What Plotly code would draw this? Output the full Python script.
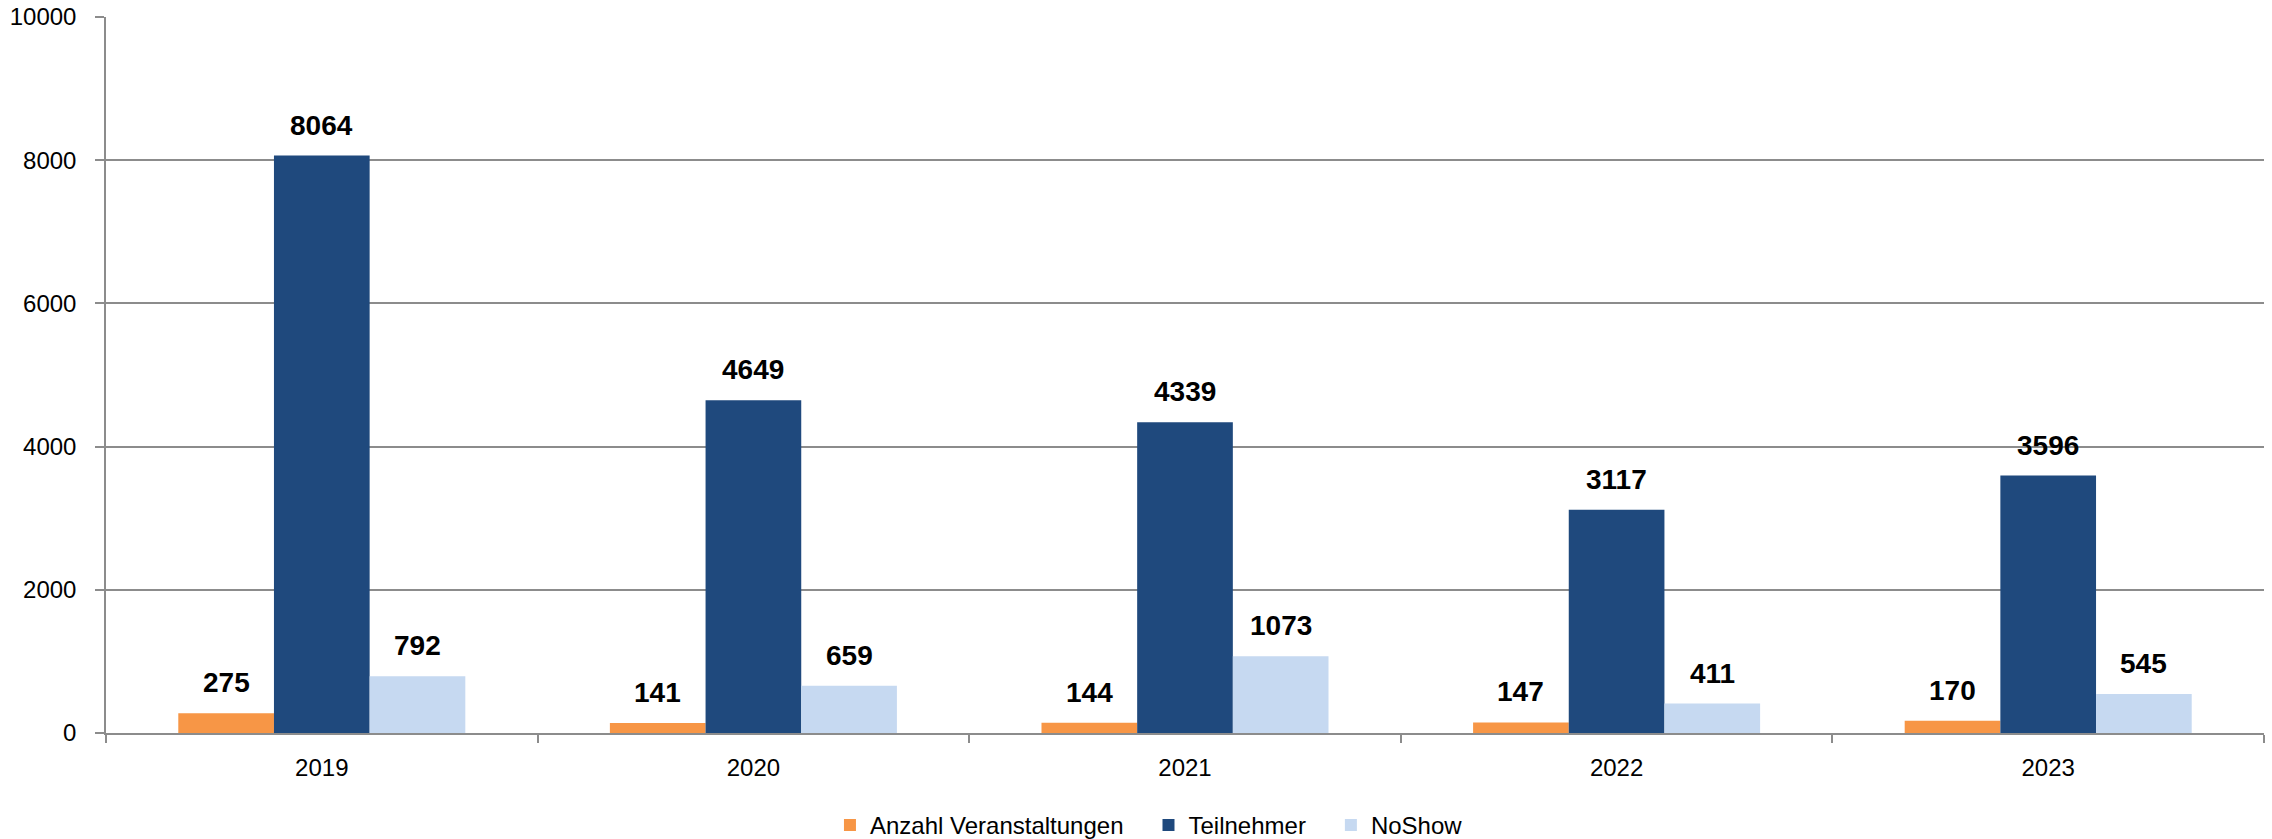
import plotly.graph_objects as go

years = ["2019", "2020", "2021", "2022", "2023"]
veranstaltungen = [275, 141, 144, 147, 170]
teilnehmer = [8064, 4649, 4339, 3117, 3596]
noshow = [792, 659, 1073, 411, 545]

series_names = ["Anzahl Veranstaltungen", "Teilnehmer", "NoShow"]
series_values = [veranstaltungen, teilnehmer, noshow]
series_colors = ["#F79646", "#1F497D", "#C6D9F1"]

FONT = "Liberation Sans, Arial, sans-serif"
GRID = "#8C8C8C"
PAD = "\u00a0" * 3  # spacing between legend entries

fig = go.Figure()
for k, (name, vals, col) in enumerate(zip(series_names, series_values, series_colors)):
    fig.add_trace(go.Bar(
        x=years, y=vals,
        name=name + (PAD if k < len(series_names) - 1 else ""),
        marker=dict(color=col, line=dict(width=0)),
    ))

# data labels above bars (x given as category index on the category axis)
bar_px = 2158 / 5 * 0.665 / 3
for i, vals in enumerate(series_values):
    for j, v in enumerate(vals):
        fig.add_annotation(
            x=j, y=v, xref="x", yref="y",
            text=f"<b>{v}</b>", showarrow=False,
            xanchor="center", yanchor="bottom",
            xshift=(i - 1) * bar_px, yshift=13,
            font=dict(family=FONT, size=28, color="#000000"),
        )

fig.update_layout(
    width=2272, height=839,
    barmode="group", bargap=0.335, bargroupgap=0,
    plot_bgcolor="white", paper_bgcolor="white",
    margin=dict(l=106, r=8, t=17, b=106, autoexpand=False),
    font=dict(family=FONT, size=24, color="#000000"),
    showlegend=True,
    legend=dict(
        orientation="h", x=0.4833, xanchor="center", y=-0.129, yanchor="middle",
        font=dict(family=FONT, size=24, color="#000000"),
        itemwidth=30, tracegroupgap=0,
    ),
)

fig.update_yaxes(
    range=[0, 10000], tickvals=[0, 2000, 4000, 6000, 8000, 10000],
    tickformat="d",
    showgrid=True, gridcolor=GRID, gridwidth=1.5,
    showline=True, linecolor=GRID, linewidth=1.5,
    ticks="outside", ticklen=9, tickcolor=GRID, tickwidth=1.5,
    ticklabelstandoff=14, zeroline=False,
    tickfont=dict(family=FONT, size=24, color="#000000"),
)
fig.update_xaxes(
    type="category", range=[-0.5, len(years) - 0.5],
    showline=True, linecolor=GRID, linewidth=1.5,
    ticks="outside", ticklen=8, tickcolor=GRID, tickwidth=1.5,
    tickson="boundaries", ticklabelstandoff=12,
    tickfont=dict(family=FONT, size=24, color="#000000"),
)

fig.write_html(
    "out.html",
    config={"displayModeBar": False},
    post_script="document.body.style.margin='0';document.body.style.overflow='hidden';",
)
